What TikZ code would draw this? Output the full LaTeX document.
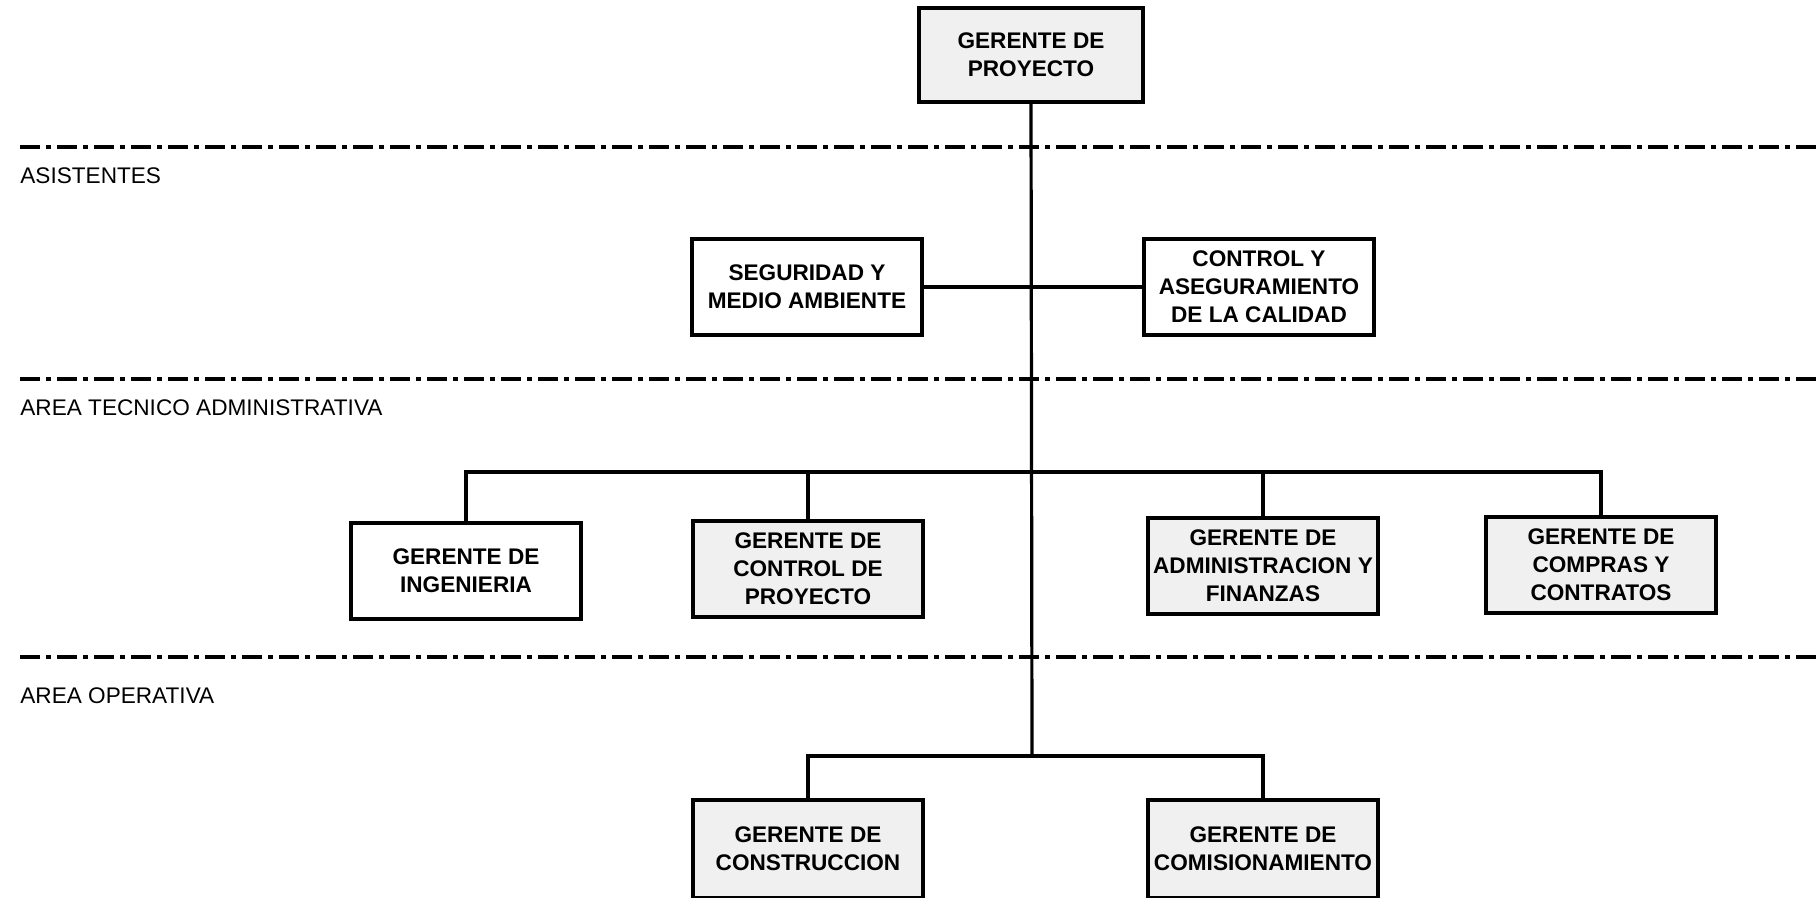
\documentclass[tikz,border=0pt]{standalone}
\usepackage{fontspec}
\setmainfont{Liberation Sans}

\tikzset{
  cargo/.style={draw, line width=1.8pt, fill=gray!12, minimum width=115pt,
    minimum height=48pt, inner sep=1pt, align=center,
    font=\bfseries\fontsize{11.3}{14}\selectfont},
  blanco/.style={cargo, fill=white},
  linea/.style={line width=1.6pt},
  nivel/.style={line width=2.2pt, dash pattern=on 10pt off 3pt on 2.5pt off 3pt},
  area/.style={anchor=west, inner sep=0pt, font=\fontsize{11.3}{13}\selectfont}
}

\begin{document}
\begin{tikzpicture}[x=0.5pt,y=-0.5pt]
\useasboundingbox (0,0) rectangle (1818,898);

\coordinate (n1a) at (20,147);  \coordinate (n1b) at (1818,147);
\coordinate (n2a) at (20,379);  \coordinate (n2b) at (1818,379);
\coordinate (n3a) at (20,657);  \coordinate (n3b) at (1818,657);
\coordinate (barra) at (1032,472);
\coordinate (tronco) at (1032,756);

\node[cargo, minimum width=112pt, minimum height=47pt] (gp) at (1031,55) {GERENTE DE\\PROYECTO};

\node[blanco] (seg) at (807,287) {SEGURIDAD Y\\MEDIO AMBIENTE};
\node[blanco] (cal) at (1259,287) {CONTROL Y\\ASEGURAMIENTO\\DE LA CALIDAD};

\node[blanco] (ing) at (466,571) {GERENTE DE\\INGENIERIA};
\node[cargo] (cpr) at (808,569) {GERENTE DE\\CONTROL DE\\PROYECTO};
\node[cargo] (adm) at (1263,566) {GERENTE DE\\ADMINISTRACION Y\\FINANZAS};
\node[cargo] (com) at (1601,565) {GERENTE DE\\COMPRAS Y\\CONTRATOS};

\node[cargo, minimum height=49pt] (con) at (808,849) {GERENTE DE\\CONSTRUCCION};
\node[cargo, minimum height=49pt] (comi) at (1263,849) {GERENTE DE\\COMISIONAMIENTO};

\draw[nivel] (n1a) -- (n1b);
\draw[nivel] (n2a) -- (n2b);
\draw[nivel] (n3a) -- (n3b);

\node[area] (asis) at (20,176) {ASISTENTES};
\node[area] (tec) at (20,408) {AREA TECNICO ADMINISTRATIVA};
\node[area] (ope) at (20,696) {AREA OPERATIVA};

\draw[linea] (gp.south) -- (tronco);
\draw[linea] (seg.east) -- (cal.west);
\draw[linea] (ing.north) |- (barra) -| (com.north);
\draw[linea] (cpr.north) -- (cpr.north |- barra);
\draw[linea] (adm.north) -- (adm.north |- barra);
\draw[linea] (con.north) |- (tronco) -| (comi.north);
\end{tikzpicture}
\end{document}
